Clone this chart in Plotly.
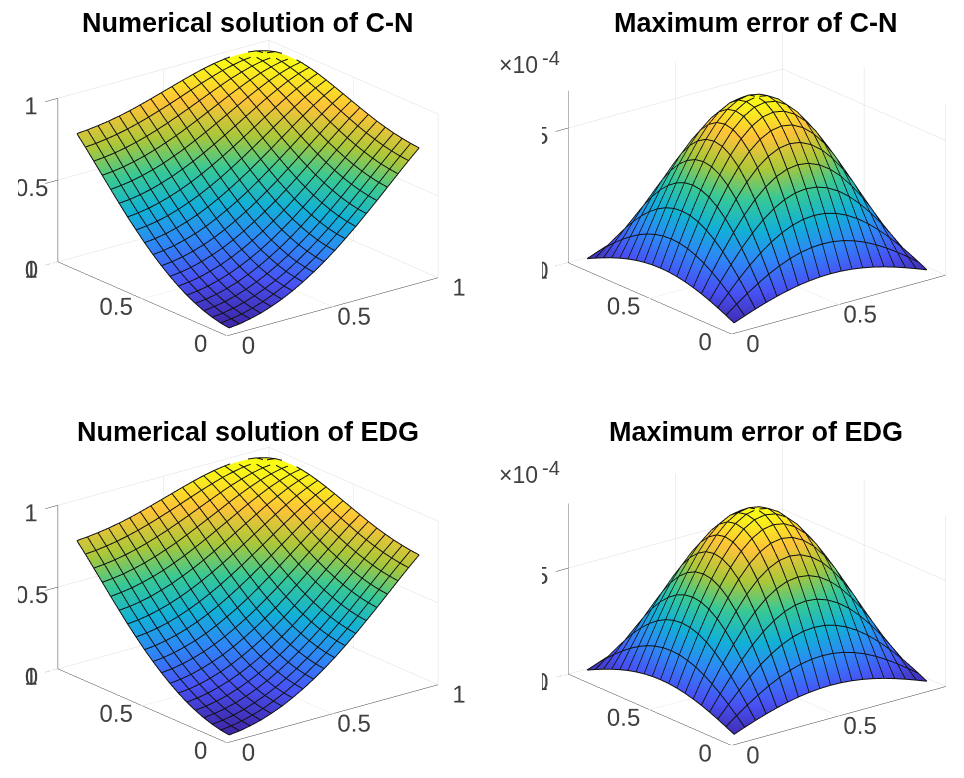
import plotly.graph_objects as go

W, H = 964, 778
grid = [0.05,0.10,0.15,0.20,0.25,0.30,0.35,0.40,0.45,0.50,0.55,0.60,0.65,0.70,0.75,0.80,0.85,0.90,0.95]

solution_values = [
[.005,.012,.025,.042,.065,.092,.125,.162,.204,.250,.300,.355,.412,.473,.535,.599,.663,.726,.786],
[.012,.020,.032,.050,.072,.100,.132,.169,.211,.257,.307,.362,.419,.479,.542,.605,.669,.731,.791],
[.025,.032,.045,.062,.085,.112,.144,.181,.223,.269,.319,.373,.430,.490,.552,.615,.678,.740,.799],
[.042,.050,.062,.080,.102,.130,.162,.199,.240,.286,.336,.389,.446,.505,.567,.629,.691,.751,.809],
[.065,.072,.085,.102,.125,.152,.184,.221,.262,.307,.357,.410,.466,.525,.585,.646,.707,.766,.822],
[.092,.100,.112,.130,.152,.179,.211,.247,.288,.333,.382,.435,.490,.548,.607,.667,.726,.783,.837],
[.125,.132,.144,.162,.184,.211,.243,.279,.319,.364,.412,.464,.518,.575,.633,.691,.748,.803,.855],
[.162,.169,.181,.199,.221,.247,.279,.315,.355,.399,.446,.497,.550,.605,.661,.717,.772,.825,.874],
[.204,.211,.223,.240,.262,.288,.319,.355,.394,.437,.484,.533,.585,.638,.693,.746,.799,.848,.894],
[.250,.257,.269,.286,.307,.333,.364,.399,.437,.479,.525,.573,.623,.674,.726,.777,.826,.872,.914],
[.300,.307,.319,.336,.357,.382,.412,.446,.484,.525,.569,.615,.663,.712,.761,.809,.855,.897,.934],
[.355,.362,.373,.389,.410,.435,.464,.497,.533,.573,.615,.659,.705,.751,.797,.841,.883,.921,.953],
[.412,.419,.430,.446,.466,.490,.518,.550,.585,.623,.663,.705,.748,.791,.833,.874,.911,.943,.970],
[.473,.479,.490,.505,.525,.548,.575,.605,.638,.674,.712,.751,.791,.830,.869,.904,.937,.964,.984],
[.535,.542,.552,.567,.585,.607,.633,.661,.693,.726,.761,.797,.833,.869,.902,.933,.959,.980,.994],
[.599,.605,.615,.629,.646,.667,.691,.717,.746,.777,.809,.841,.874,.904,.933,.958,.978,.993,1.00],
[.663,.669,.678,.691,.707,.726,.748,.772,.799,.826,.855,.883,.911,.937,.959,.978,.992,.999,.999],
[.726,.731,.740,.751,.766,.783,.803,.825,.848,.872,.897,.921,.943,.964,.980,.993,.999,.999,.990],
[.786,.791,.799,.809,.822,.837,.855,.874,.894,.914,.934,.953,.970,.984,.994,1.00,.999,.990,.973],
]
# relative arch height read across the error surfaces
error_profile = [0.156,0.309,0.454,0.588,0.707,0.809,0.891,0.951,0.988,1.0,0.988,0.951,0.891,0.809,0.707,0.588,0.454,0.309,0.156]
error_cn_peak = 6.38
error_edg_peak = 8.05

error_cn = [[error_cn_peak*a*b for a in error_profile] for b in error_profile]
error_edg = [[error_edg_peak*a*b for a in error_profile] for b in error_profile]

titles = ["Numerical solution of C-N", "Maximum error of C-N", "Numerical solution of EDG", "Maximum error of EDG"]
xy_ticks = [0, 0.5, 1]
xy_labels = ["0", "0.5", "1"]
sol_ticks = [0, 0.5, 1]
sol_labels = ["0", "0.5", "1"]
err_ticks = [0, 5]
err_labels = ["0", "5"]

parula = [[0/7,"rgb(62,38,168)"],[1/7,"rgb(72,82,244)"],[2/7,"rgb(46,135,247)"],[3/7,"rgb(18,177,214)"],
          [4/7,"rgb(55,200,151)"],[5/7,"rgb(171,199,57)"],[6/7,"rgb(254,195,56)"],[7/7,"rgb(249,251,21)"]]

panels = [
    dict(z=solution_values, top=1.0, cx=240, cy=179.5, hw=230, xa=1.0, ya=1.01, za=0.647, t=sol_ticks, l=sol_labels),
    dict(z=error_cn, top=error_cn_peak, cx=748.5, cy=175.5, hw=215, xa=1.015, ya=0.975, za=0.68, t=err_ticks, l=err_labels),
    dict(z=solution_values, top=1.0, cx=240, cy=586.5, hw=230, xa=1.0, ya=1.01, za=0.647, t=sol_ticks, l=sol_labels),
    dict(z=error_edg, top=error_edg_peak, cx=748.5, cy=586.5, hw=215, xa=1.015, ya=0.975, za=0.675, t=err_ticks, l=err_labels),
]

EYE = (-0.583, -0.735, 0.347)
DIST = 1.5
SCALE = 1.54
HH = 175

fig = go.Figure()
layout = {}
font = "Liberation Sans, Arial, sans-serif"
for k, p in enumerate(panels):
    name = "scene" if k == 0 else f"scene{k+1}"
    fig.add_trace(go.Surface(
        x=grid, y=grid, z=p["z"], scene=name, colorscale=parula, showscale=False,
        cmin=0, cmax=p["top"], hoverinfo="skip",
        lighting=dict(ambient=1, diffuse=0, specular=0, fresnel=0, roughness=1),
    ))
    lift = 0.003 * p["top"]
    mx, my, mz = [], [], []
    for j, yy in enumerate(grid):
        for i, xx in enumerate(grid):
            mx.append(xx); my.append(yy); mz.append(p["z"][j][i] + lift)
        mx.append(None); my.append(None); mz.append(None)
    for i, xx in enumerate(grid):
        for j, yy in enumerate(grid):
            mx.append(xx); my.append(yy); mz.append(p["z"][j][i] + lift)
        mx.append(None); my.append(None); mz.append(None)
    fig.add_trace(go.Scatter3d(x=mx, y=my, z=mz, mode="lines", scene=name, hoverinfo="skip",
                               line=dict(color="#111111", width=2), showlegend=False))
    def ax(rng, tv, tt, tlen, tcol):
        return dict(range=rng, tickmode="array", tickvals=tv, ticktext=tt, title=dict(text=""),
                    showgrid=True, gridcolor="#dddddd", gridwidth=1, zeroline=False,
                    showline=True, linecolor="#404040", linewidth=1, ticks="outside", ticklen=tlen,
                    tickcolor=tcol, tickfont=dict(family=font, size=17, color="#404040"),
                    showbackground=False, showspikes=False, tickangle=0)
    layout[name] = dict(
        domain=dict(x=[(p["cx"]-p["hw"])/W, (p["cx"]+p["hw"])/W],
                    y=[1-(p["cy"]+HH)/H, 1-(p["cy"]-HH)/H]),
        aspectmode="manual", aspectratio=dict(x=p["xa"]*SCALE, y=p["ya"]*SCALE, z=p["za"]*SCALE),
        camera=dict(eye=dict(x=EYE[0]*DIST, y=EYE[1]*DIST, z=EYE[2]*DIST),
                    center=dict(x=0, y=0, z=0), up=dict(x=0, y=0, z=1),
                    projection=dict(type="orthographic")),
        xaxis=ax([0, 1], xy_ticks, xy_labels, 16, "rgba(255,255,255,0)"),
        yaxis=ax([0, 1], xy_ticks, xy_labels, 16, "rgba(255,255,255,0)"),
        zaxis=ax([0, p["top"]], p["t"], p["l"], 6, "#404040"),
    )

def note(text, x, y, size, color="#000", anchor="center"):
    return dict(text=text, x=x/W, y=1-y/H, xref="paper", yref="paper", showarrow=False,
                xanchor=anchor, yanchor="middle", font=dict(family=font, size=size, color=color))

annotations = [
    note("<b>"+titles[0]+"</b>", 240, 15, 27),
    note("<b>"+titles[1]+"</b>", 748, 15, 27),
    note("<b>"+titles[2]+"</b>", 240, 424, 27),
    note("<b>"+titles[3]+"</b>", 748, 424, 27),
    note("×10", 489, 57, 23, "#404040", "left"),
    note("-4", 532, 50, 20, "#404040", "left"),
    note("×10", 489, 467, 23, "#404040", "left"),
    note("-4", 532, 460, 20, "#404040", "left"),
]
fig.update_layout(width=W, height=H, margin=dict(l=0, r=0, t=0, b=0), paper_bgcolor="white",
                  showlegend=False, annotations=annotations, **layout)
fig.write_html("out.html")
